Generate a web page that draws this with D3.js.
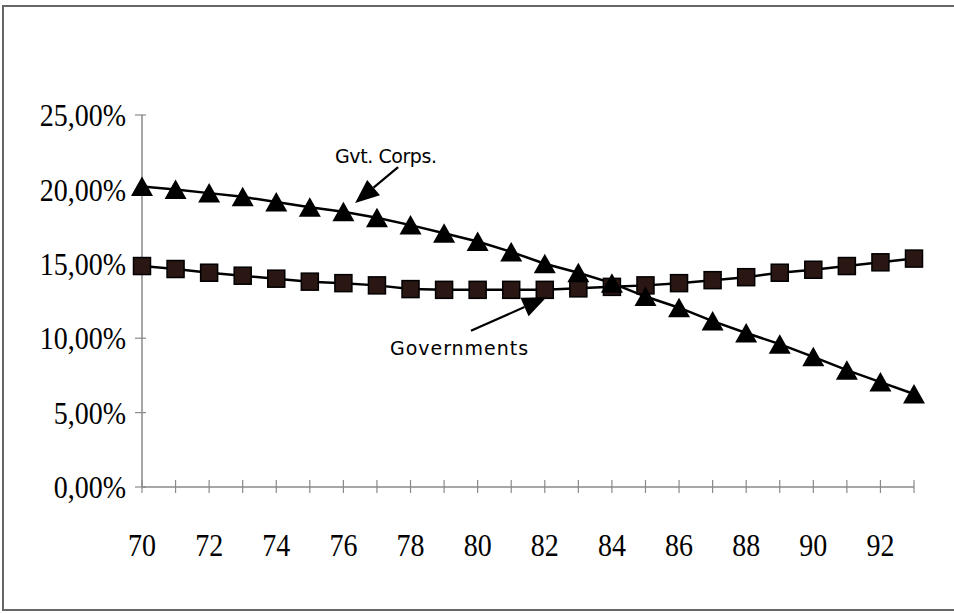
<!DOCTYPE html>
<html>
<head>
<meta charset="utf-8">
<script src="https://cdn.jsdelivr.net/npm/d3@7"></script>
<style>
  body { margin: 0; background: #fff; }
  svg { display: block; }
</style>
</head>
<body>
<svg id="chart" width="954" height="613"></svg>
<script>
// years and the two series (percent)
const years = d3.range(70, 94);
const gvtCorps = [20.2, 20.0, 19.75, 19.5, 19.15, 18.8, 18.5, 18.1, 17.6, 17.05, 16.5, 15.8,
  15.0, 14.4, 13.7, 12.8, 12.05, 11.15, 10.35, 9.6, 8.75, 7.85, 7.05, 6.25];
const governments = [14.85, 14.65, 14.4, 14.2, 14.0, 13.8, 13.7, 13.55, 13.3, 13.25, 13.25, 13.25,
  13.25, 13.35, 13.45, 13.55, 13.7, 13.9, 14.1, 14.4, 14.6, 14.85, 15.1, 15.35];
const yTicks = [0, 5, 10, 15, 20, 25];
const xLabels = [70, 72, 74, 76, 78, 80, 82, 84, 86, 88, 90, 92];

const svg = d3.select("#chart");
const x = d3.scaleLinear().domain([70, 93]).range([142, 914]);
const y = d3.scaleLinear().domain([0, 25]).range([487, 115]);

// frame
svg.append("rect").attr("x", 3).attr("y", 6).attr("width", 960).attr("height", 604)
  .attr("fill", "none").attr("stroke", "#666").attr("stroke-width", 2);

const axisCol = "#8a8a8a";
// y axis
svg.append("line").attr("x1", x(70)).attr("x2", x(70)).attr("y1", y(25)).attr("y2", y(0))
  .attr("stroke", axisCol).attr("stroke-width", 1.5);
svg.selectAll(".ytick").data(yTicks).enter().append("line")
  .attr("x1", x(70) - 7).attr("x2", x(70) + 4)
  .attr("y1", d => y(d)).attr("y2", d => y(d))
  .attr("stroke", axisCol).attr("stroke-width", 1.2);
svg.selectAll(".ylab").data(yTicks).enter().append("text")
  .attr("transform", d => `translate(126,${y(d)}) scale(1,1.15)`)
  .attr("dy", "0.35em")
  .attr("text-anchor", "end")
  .style("font-family", "Liberation Serif, serif").style("font-size", "28px")
  .text(d => d3.format(".2f")(d).replace(".", ",") + "%");

// x axis
svg.append("line").attr("x1", x(70)).attr("x2", x(93)).attr("y1", y(0)).attr("y2", y(0))
  .attr("stroke", axisCol).attr("stroke-width", 1.5);
svg.selectAll(".xtick").data(years).enter().append("line")
  .attr("x1", d => x(d)).attr("x2", d => x(d))
  .attr("y1", y(0) - 7).attr("y2", y(0) + 6)
  .attr("stroke", axisCol).attr("stroke-width", 1.2);
svg.selectAll(".xlab").data(xLabels).enter().append("text")
  .attr("transform", d => `translate(${x(d)},556) scale(1,1.15)`)
  .attr("text-anchor", "middle")
  .style("font-family", "Liberation Serif, serif").style("font-size", "28px")
  .text(d => d);

// lines
const line = d3.line().x((d, i) => x(years[i])).y(d => y(d));
svg.append("path").datum(governments).attr("d", line)
  .attr("fill", "none").attr("stroke", "#000").attr("stroke-width", 2.5);
svg.append("path").datum(gvtCorps).attr("d", line)
  .attr("fill", "none").attr("stroke", "#000").attr("stroke-width", 2.5);

// square markers
svg.selectAll(".sq").data(governments).enter().append("rect")
  .attr("x", (d, i) => x(years[i]) - 8.5).attr("y", d => y(d) - 8.5)
  .attr("width", 17).attr("height", 17)
  .attr("fill", "#2a1612").attr("stroke", "#000").attr("stroke-width", 1.5);

// triangle markers
svg.selectAll(".tri").data(gvtCorps).enter().append("path")
  .attr("d", (d, i) => {
    const cx = x(years[i]), cy = y(d);
    return `M${cx},${cy - 10}L${cx + 11},${cy + 9.5}L${cx - 11},${cy + 9.5}Z`;
  })
  .attr("fill", "#000");

// annotations
function arrow(x0, y0, x1, y1) {
  const px0 = x(x0), py0 = y(y0), px1 = x(x1), py1 = y(y1);
  const ang = Math.atan2(py1 - py0, px1 - px0);
  const len = 24, half = 10;
  const bx = px1 - len * Math.cos(ang), by = py1 - len * Math.sin(ang);
  svg.append("line").attr("x1", px0).attr("y1", py0).attr("x2", bx).attr("y2", by)
    .attr("stroke", "#000").attr("stroke-width", 2.2);
  svg.append("path")
    .attr("d", `M${px1},${py1}L${bx + half * Math.sin(ang)},${by - half * Math.cos(ang)}L${bx - half * Math.sin(ang)},${by + half * Math.cos(ang)}Z`)
    .attr("fill", "#000");
}
arrow(77.63, 21.5, 76.35, 19.09);
arrow(79.8, 10.5, 82.05, 12.75);

svg.append("text").attr("x", x(75.75)).attr("y", y(21.75))
  .style("font-family", "DejaVu Sans, sans-serif").style("font-size", "19px")
  .attr("textLength", 102)
  .text("Gvt. Corps.");
svg.append("text").attr("x", x(77.39)).attr("y", y(8.85))
  .style("font-family", "DejaVu Sans, sans-serif").style("font-size", "19px")
  .attr("textLength", 138)
  .text("Governments");
</script>
</body>
</html>
